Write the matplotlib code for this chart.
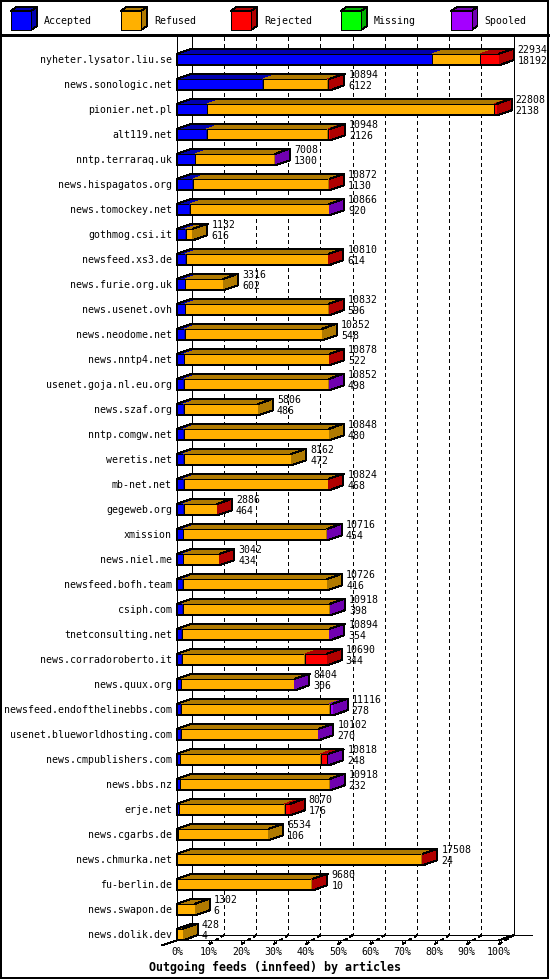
import matplotlib
matplotlib.use('Agg')
import matplotlib.pyplot as plt
from matplotlib.patches import Polygon, Rectangle
import numpy as np

# ---------------- data ----------------
hosts = ['nyheter.lysator.liu.se', 'news.sonologic.net', 'pionier.net.pl', 'alt119.net',
         'nntp.terraraq.uk', 'news.hispagatos.org', 'news.tomockey.net', 'gothmog.csi.it',
         'newsfeed.xs3.de', 'news.furie.org.uk', 'news.usenet.ovh', 'news.neodome.net',
         'news.nntp4.net', 'usenet.goja.nl.eu.org', 'news.szaf.org', 'nntp.comgw.net',
         'weretis.net', 'mb-net.net', 'gegeweb.org', 'xmission', 'news.niel.me',
         'newsfeed.bofh.team', 'csiph.com', 'tnetconsulting.net', 'news.corradoroberto.it',
         'news.quux.org', 'newsfeed.endofthelinebbs.com', 'usenet.blueworldhosting.com',
         'news.cmpublishers.com', 'news.bbs.nz', 'erje.net', 'news.cgarbs.de',
         'news.chmurka.net', 'fu-berlin.de', 'news.swapon.de', 'news.dolik.dev']
offered = [22934, 10894, 22808, 10948, 7008, 10872, 10866, 1132, 10810, 3316, 10832, 10352,
           10878, 10852, 5806, 10848, 8162, 10824, 2886, 10716, 3042, 10726, 10918, 10894,
           10690, 8404, 11116, 10102, 10818, 10918, 8070, 6534, 17508, 9680, 1302, 428]
accepted = [18192, 6122, 2138, 2126, 1300, 1130, 920, 616, 614, 602, 596, 548, 522, 498, 486,
            480, 472, 468, 464, 454, 434, 416, 398, 354, 344, 306, 278, 270, 248, 232, 176,
            106, 24, 10, 6, 4]
refused = [3402, 4622, 20470, 8622, 5678, 9692, 9906, 516, 10156, 2714, 10196, 9804, 10316,
           10314, 5320, 10368, 7690, 10316, 2392, 10222, 2578, 10310, 10480, 10500, 8772, 8058,
           10588, 9792, 9990, 10646, 7494, 6428, 17424, 9590, 1296, 424]
rejected = [1340, 150, 200, 200, 0, 50, 0, 0, 40, 0, 40, 0, 40, 0, 0, 0, 0, 40, 30, 0, 30, 0,
            0, 0, 1574, 0, 0, 0, 470, 0, 400, 0, 60, 80, 0, 0]
missing = [0] * 36
spooled = [0, 0, 0, 0, 30, 0, 40, 0, 0, 0, 0, 0, 0, 40, 0, 0, 0, 0, 0, 40, 0, 0, 40, 40, 0,
           40, 250, 40, 110, 40, 0, 0, 0, 0, 0, 0]

series_names = ['Accepted', 'Refused', 'Rejected', 'Missing', 'Spooled']
front_colors = ['#0000ff', '#ffb000', '#ff0000', '#00ff00', '#a400ff']
dark_colors = ['#0000b0', '#b07a00', '#b00000', '#00b000', '#7000b0']
tick_labels = ['0%', '10%', '20%', '30%', '40%', '50%', '60%', '70%', '80%', '90%', '100%']
title = 'Outgoing feeds (innfeed) by articles'

# ---------------- layout / style ----------------
W, H = 550, 980
X0_PX, PX_PER_PCT = 177.0, 3.22
ROW0_PX, ROW_PX = 59.5, 25.0
DX = 14.5 / PX_PER_PCT
DY = 5.0 / ROW_PX
BH = 11.5 / ROW_PX
LW = 0.72
FONT = 'DejaVu Sans Mono'
FS = 7.15

fig = plt.figure(figsize=(W / 100, H / 100), dpi=100)
fig.patch.set_facecolor('white')
ax = fig.add_axes([0, 0, 1, 1])
ax.set_xlim(-X0_PX / PX_PER_PCT, (W - X0_PX) / PX_PER_PCT)
ax.set_ylim((H - ROW0_PX) / ROW_PX, -ROW0_PX / ROW_PX)
ax.axis('off')

lay = fig.add_axes([0, 0, 1, 1], zorder=-1)
lay.set_xlim(0, W)
lay.set_ylim(H, 0)
lay.axis('off')

n = len(hosts)
series = [accepted, refused, rejected, missing, spooled]
max_total = max(sum(s[i] for s in series) for i in range(n))

top_y = (37 - ROW0_PX) / ROW_PX
floor_front = (n - 1) + BH / 2
floor_back = floor_front - DY

# walls, grid and floor
lk = dict(color='black', lw=LW, antialiased=False, zorder=1)
ax.plot([0, 0], [top_y, floor_front], **lk)
ax.plot([DX, DX], [top_y, floor_back], **lk)
ax.plot([100 + DX, 100 + DX], [top_y, floor_back], **lk)
for k in range(1, 10):
    ax.plot([k * 10 + DX] * 2, [top_y, floor_back], color='black', lw=LW,
            ls=(0, (4, 4)), antialiased=False, zorder=1)
ax.plot([0, 100], [floor_front, floor_front], **lk)
ax.plot([100, 100 + DX], [floor_front, floor_back], **lk)
ax.plot([DX, 100 + DX + 18 / PX_PER_PCT], [floor_back, floor_back], **lk)
ax.plot([-DX, DX], [floor_front + DY, floor_back], **lk)
for k in range(1, 11):
    xk = k * 10
    ax.plot([xk, xk], [floor_front, floor_front + 0.8 * DY], **lk)
    ax.plot([xk, xk + DX], [floor_front + 0.8 * DY, floor_back], color='black', lw=LW,
            ls=(0, (3, 3)), antialiased=False, zorder=1)
for k, lab in enumerate(tick_labels):
    ax.text(k * 10, (952 - ROW0_PX) / ROW_PX, lab, ha='center', va='center',
            family=FONT, fontsize=FS)

# bars
for i in range(n):
    segs = [s[i] for s in series]
    cum = np.concatenate([[0], np.cumsum(segs)]) / max_total * 100
    yt, yb = i - BH / 2, i + BH / 2
    for s in range(5):
        if segs[s] <= 0:
            continue
        x0, x1 = cum[s], cum[s + 1]
        ax.add_patch(Polygon([(x0, yt), (x1, yt), (x1 + DX, yt - DY), (x0 + DX, yt - DY)],
                             closed=True, fc=dark_colors[s], ec='none', antialiased=False, zorder=3))
        ax.add_patch(Rectangle((x0, yt), x1 - x0, BH, fc=front_colors[s], ec='black', lw=LW,
                               antialiased=False, zorder=3))
        ax.add_patch(Polygon([(x1, yt), (x1 + DX, yt - DY), (x1 + DX, yb - DY), (x1, yb)],
                             closed=True, fc=dark_colors[s], ec='none', antialiased=False, zorder=3))
    xe = cum[-1]
    ax.add_patch(Polygon([(0, yb), (0, yt), (DX, yt - DY), (xe + DX, yt - DY),
                          (xe + DX, yb - DY), (xe, yb)], closed=True, fill=False,
                         ec='black', lw=LW, antialiased=False, zorder=4))
    ax.plot([xe, xe + DX], [yt, yt - DY], color='black', lw=LW, antialiased=False, zorder=4)
    ax.text(-5 / PX_PER_PCT, i, hosts[i], ha='right', va='center', family=FONT, fontsize=FS)
    tx = xe + DX + 4 / PX_PER_PCT
    ax.text(tx, i - 0.37, str(offered[i]), ha='left', va='center', family=FONT, fontsize=FS, zorder=5)
    ax.text(tx, i + 0.07, str(accepted[i]), ha='left', va='center', family=FONT, fontsize=FS, zorder=5)

# title
lay.text(275, 967, title, ha='center', va='center', family=FONT, fontsize=8.4,
         fontweight='bold')

# legend
LX = [10.5, 120.5, 230.5, 340.5, 451.0]
cw, ch, cdx, cdy = 20.5, 19, 6, 4
for s, name in enumerate(series_names):
    fx, fy = LX[s], 11
    lay.add_patch(Polygon([(fx, fy), (fx + cw, fy), (fx + cw + cdx, fy - cdy), (fx + cdx, fy - cdy)],
                          closed=True, fc=dark_colors[s], ec='black', lw=LW, antialiased=False))
    lay.add_patch(Polygon([(fx + cw, fy), (fx + cw + cdx, fy - cdy), (fx + cw + cdx, fy + ch - cdy),
                           (fx + cw, fy + ch)], closed=True, fc=dark_colors[s], ec='black', lw=LW,
                          antialiased=False))
    lay.add_patch(Rectangle((fx, fy), cw, ch, fc=front_colors[s], ec='black', lw=LW,
                            antialiased=False))
    lay.text(fx + 33.5, 20.5, name, ha='left', va='center', family=FONT, fontsize=FS)

# frame
lay.plot([1, 548], [35.5, 35.5], color='black', lw=1.0, antialiased=False)
lay.add_patch(Rectangle((1, 1), 547, 977, fill=False, ec='black', lw=1.44, antialiased=False))

fig.savefig('out.png', dpi=100, facecolor='white')
